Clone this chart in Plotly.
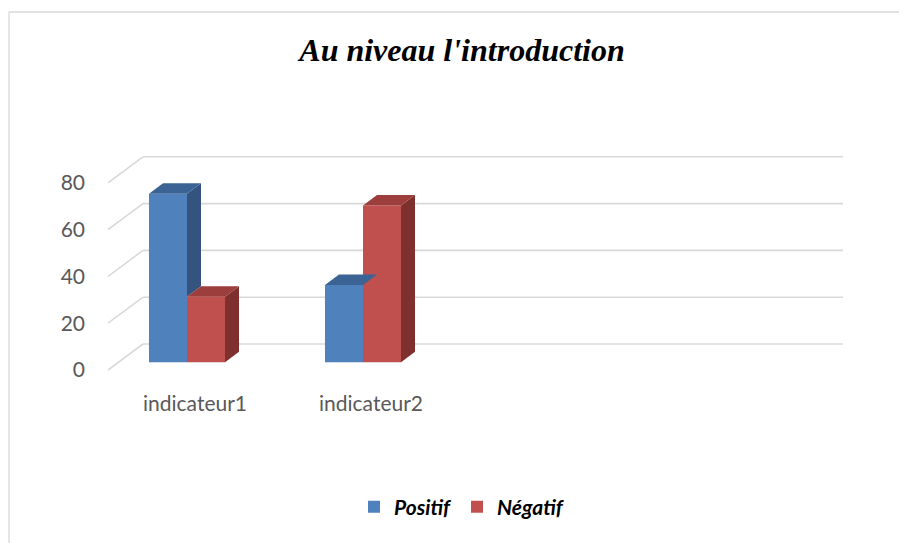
import plotly.graph_objects as go

# ---- data ----
categories = ["indicateur1", "indicateur2"]
positif = [72, 33]
negatif = [28, 67]
series_names = ["Positif", "Négatif"]
y_ticks = [0, 20, 40, 60, 80]
title_text = "Au niveau l'introduction"

# ---- styling / geometry (pixel based, converted to data units) ----
OFF = 8                                       # page body margin
W, H = 907, 543
PL, PR, PT, PB = 108 - OFF, 843 - OFF, 130 - OFF, 380 - OFF   # plot-area box
PX_PER_Y = 2.34
Y0_PX = 370 - OFF
PX_PER_X = 176
X0_PX = 187 - OFF
DEPTH_X_PX, DEPTH_Y_PX = 35, 26
BAR_D0, BAR_D1 = 0.3, 0.7

y_lo = -(PB - Y0_PX) / PX_PER_Y
y_hi = (Y0_PX - PT) / PX_PER_Y
x_lo = (PL - X0_PX) / PX_PER_X
x_hi = (PR - X0_PX) / PX_PER_X

full_dx = DEPTH_X_PX / PX_PER_X
full_dy = DEPTH_Y_PX / PX_PER_Y
base_dy = BAR_D0 * full_dy
bar_dx = (BAR_D1 - BAR_D0) * full_dx
bar_dy = (BAR_D1 - BAR_D0) * full_dy

colors = {
    "Positif": dict(front="#4F81BD", top="#3B6393", side="#34537F"),
    "Négatif": dict(front="#C0504D", top="#9C3E3B", side="#7E302E"),
}

bargap = 0.568
bar_w = (1 - bargap) / 2
xs = list(range(len(categories)))

fig = go.Figure()

for name, vals in zip(series_names, [positif, negatif]):
    fig.add_trace(go.Bar(
        x=xs, y=vals, base=base_dy, name=name,
        marker=dict(color=colors[name]["front"], line=dict(width=0)),
        hovertemplate=name + ": %{y}<extra></extra>",
    ))

all_vals = [positif, negatif]
for i in xs:
    for s, name in enumerate(series_names):
        v = all_vals[s][i] + base_dy
        xl = i - bar_w + s * bar_w
        xr = xl + bar_w
        bottom = base_dy
        if s + 1 < len(series_names):
            bottom = min(v, all_vals[s + 1][i] + base_dy)
        sx = [xr, xr + bar_dx, xr + bar_dx, xr, xr]
        sy = [bottom, bottom + bar_dy, v + bar_dy, v, bottom]
        fig.add_trace(go.Scatter(x=sx, y=sy, fill="toself", mode="lines",
                                 line=dict(width=0, color=colors[name]["side"]),
                                 fillcolor=colors[name]["side"],
                                 showlegend=False, hoverinfo="skip"))
        tx = [xl, xl + bar_dx, xr + bar_dx, xr, xl]
        ty = [v, v + bar_dy, v + bar_dy, v, v]
        fig.add_trace(go.Scatter(x=tx, y=ty, fill="toself", mode="lines",
                                 line=dict(width=0, color=colors[name]["top"]),
                                 fillcolor=colors[name]["top"],
                                 showlegend=False, hoverinfo="skip"))

shapes = []
grid_col = "#D9D9D9"
for t in y_ticks:
    shapes.append(dict(type="line", xref="x", yref="y", layer="below",
                       x0=x_lo + full_dx, x1=x_hi, y0=t + full_dy, y1=t + full_dy,
                       line=dict(color=grid_col, width=1.6)))
    shapes.append(dict(type="line", xref="x", yref="y", layer="below",
                       x0=x_lo, x1=x_lo + full_dx, y0=t, y1=t + full_dy,
                       line=dict(color=grid_col, width=1.6)))
pw, ph = PR - PL, PB - PT
shapes.append(dict(type="rect", xref="paper", yref="paper", layer="below",
                   x0=(1 - PL) / pw, x1=(W + 10 - PL) / pw,
                   y0=(PB - (H + 10)) / ph, y1=(PB - (12 - OFF)) / ph,
                   line=dict(color="#D9D9D9", width=1.3), fillcolor="rgba(0,0,0,0)"))

fig.update_layout(
    width=W, height=H,
    margin=dict(l=PL, r=W - PR, t=PT, b=H - PB, pad=0),
    paper_bgcolor="white", plot_bgcolor="rgba(0,0,0,0)",
    barmode="group", bargap=bargap, bargroupgap=0,
    title=dict(text=title_text, x=(462 - OFF) / W, xanchor="center",
               y=1 - (50 - OFF) / H, yanchor="middle",
               font=dict(family="Liberation Serif", size=32, color="black",
                         weight="bold", style="italic")),
    xaxis=dict(range=[x_lo, x_hi], tickvals=xs, ticktext=categories,
               showgrid=False, zeroline=False, showline=False, ticks="",
               tickfont=dict(family="Lato", size=21, color="#595959"),
               ticklabelstandoff=9, ticklabelshift=8),
    yaxis=dict(range=[y_lo, y_hi], tickvals=y_ticks,
               showgrid=False, zeroline=False, showline=False, ticks="",
               tickfont=dict(family="Lato", size=21, color="#595959"),
               ticklabelstandoff=22),
    legend=dict(orientation="h", x=(462 - OFF - PL) / pw, xanchor="center",
                y=(PB - (507 - OFF)) / ph, yanchor="middle",
                font=dict(family="Lato", size=21, color="black",
                          weight="bold", style="italic"),
                itemwidth=30, traceorder="normal"),
    shapes=shapes,
)

fig.write_html("out.html")
